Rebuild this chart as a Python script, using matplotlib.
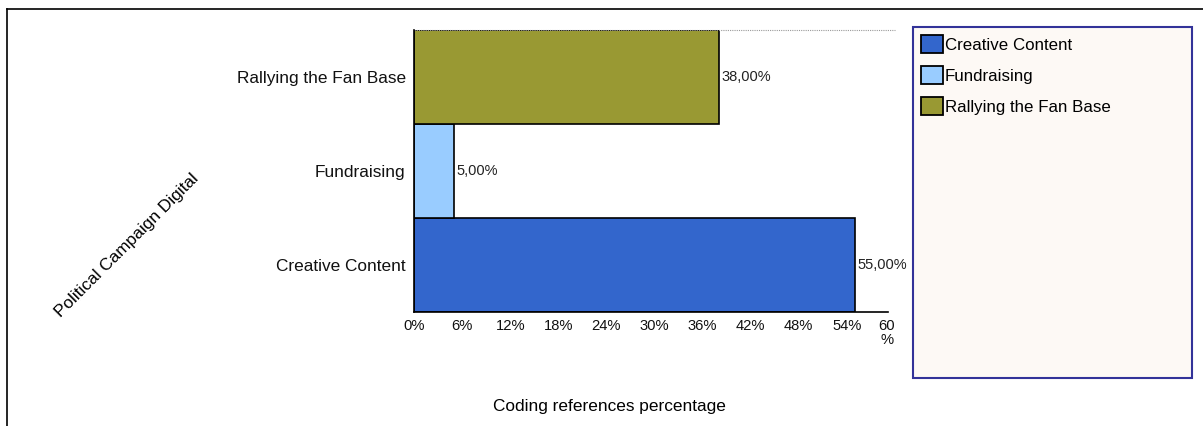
import matplotlib
matplotlib.use("Agg")
import matplotlib.pyplot as plt
from matplotlib.lines import Line2D
from matplotlib.patches import Patch, Rectangle
from matplotlib.transforms import ScaledTranslation

categories = ["Creative Content", "Fundraising", "Rallying the Fan Base"]
values = [55, 5, 38]
colors = ["#3366CC", "#99CCFF", "#999933"]
ticks = [0, 6, 12, 18, 24, 30, 36, 42, 48, 54, 60]
tick_labels = ["0%", "6%", "12%", "18%", "24%", "30%", "36%", "42%", "48%", "54%", "60\n%"]

W, H = 1203, 426
plt.rcParams['font.family'] = ['Liberation Sans', 'DejaVu Sans']
fig = plt.figure(figsize=(W / 100, H / 100), dpi=100)

# outer frame (top and left edges only)
fig.add_artist(Line2D([7 / W, 1], [1 - 9 / H, 1 - 9 / H], color="black", lw=1.2))
fig.add_artist(Line2D([7 / W, 7 / W], [0, 1 - 9 / H], color="black", lw=1.2))

ax = fig.add_axes([414 / W, (H - 312) / H, 481 / W, 282 / H])
ypos = range(len(categories))
ax.barh(ypos, values, height=1.0, color=colors, edgecolor="black", linewidth=1.2)
ax.set_xlim(0, 60)
ax.set_ylim(-0.5, 2.5)

for y, v in zip(ypos, values):
    ax.text(v + 0.3, y, f"{v},00%", va="center", ha="left", fontsize=10.5, color="#222222")

ax.set_yticks(list(ypos))
ax.set_yticklabels(categories, fontsize=12.4, color="#111111")
ax.set_xticks(ticks)
ax.set_xticklabels(tick_labels, fontsize=10.6, va="top", linespacing=1.05, color="#111111")
ax.tick_params(length=0, pad=5)
ax.tick_params(axis="y", pad=6)
# pull the last label back inside the axis end
last = ax.get_xticklabels()[-1]
last.set_transform(last.get_transform() + ScaledTranslation(-6 / 72, 0, fig.dpi_scale_trans))

for s in ["top", "right"]:
    ax.spines[s].set_visible(False)
ax.spines["left"].set_linewidth(1.2)
ax.spines["bottom"].set_linewidth(1.2)
ax.spines["bottom"].set_bounds(0, 59.1)
# dotted gridline along the top of the plot area
ax.axhline(2.5, color="#999999", lw=0.8, ls=(0, (1, 1)), clip_on=False)

fig.text(127 / W, 1 - 245 / H, "Political Campaign Digital", rotation=45,
         ha="center", va="center", fontsize=12.4)
fig.text(609 / W, 1 - 406 / H, "Coding references percentage",
         ha="center", va="center", fontsize=12.4)

# legend box drawn at a fixed size, entries placed inside it
fig.add_artist(Rectangle((913 / W, 1 - 378 / H), (1192 - 913) / W, (378 - 27) / H,
                         transform=fig.transFigure, facecolor="#FDF9F5",
                         edgecolor="#333399", lw=1.5, zorder=0))
handles = [Patch(facecolor=c, edgecolor="black", linewidth=1.3) for c in colors]
leg = fig.legend(handles, categories, loc="upper left",
                 bbox_to_anchor=(913 / W, 1 - 27 / H), fontsize=12.2,
                 frameon=False, handlelength=1.25, handleheight=1.2,
                 handletextpad=0.12, labelspacing=0.8, borderpad=0.5,
                 borderaxespad=0)

fig.savefig("out.png", dpi=100)
